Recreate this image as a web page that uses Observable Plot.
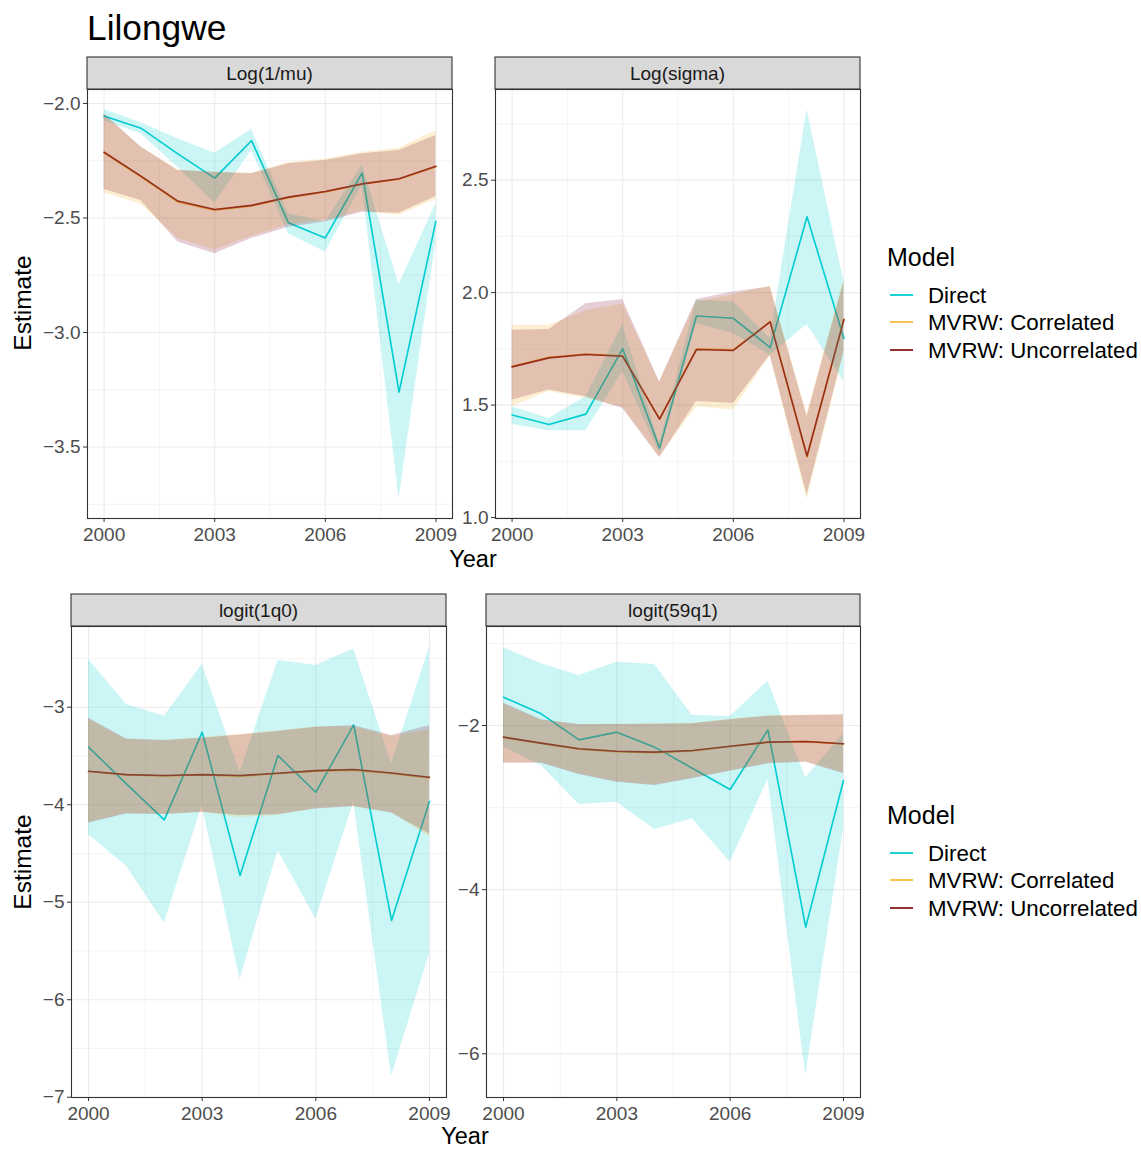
<!DOCTYPE html>
<html>
<head>
<meta charset="utf-8">
<script src="https://cdn.jsdelivr.net/npm/d3@7"></script>
<script src="https://cdn.jsdelivr.net/npm/@observablehq/plot@0.6"></script>
<style>
  html, body { margin: 0; padding: 0; background: #fff; }
  #root { position: relative; width: 1141px; height: 1149px; overflow: hidden; font-family: "Liberation Sans", Arial, sans-serif; }
  #root svg.plot { position: absolute; }
  #overlay { position: absolute; left: 0; top: 0; pointer-events: none; }
</style>
</head>
<body>
<div id="root"></div>
<script>
// ---------------- data ----------------
const years = [2000, 2001, 2002, 2003, 2004, 2005, 2006, 2007, 2008, 2009];
const xMajorTicks = [2000, 2003, 2006, 2009];
const xMinorTicks = [2001.5, 2004.5, 2007.5];
const panelTitles = ["Log(1/mu)", "Log(sigma)", "logit(1q0)", "logit(59q1)"];
const modelNames = ["Direct", "MVRW: Correlated", "MVRW: Uncorrelated"];
const lineColors = ["#00CED1", "#F5BE3A", "#8B1A1A"];
const fillColors = ["#00CED1", "#F0B01E", "#7D0A2A"];
const titleText = "Lilongwe";
const xTitle = "Year";
const yTitle = "Estimate";
const legendTitle = "Model";

// Log(1/mu)
const mu_direct_est = [-2.055, -2.108, -2.22, -2.326, -2.162, -2.521, -2.587, -2.303, -3.26, -2.514];
const mu_direct_lo  = [-2.075, -2.132, -2.28, -2.434, -2.205, -2.569, -2.649, -2.358, -3.726, -2.60];
const mu_direct_hi  = [-2.026, -2.084, -2.154, -2.217, -2.114, -2.48, -2.518, -2.27, -2.79, -2.438];
const mu_corr_est   = [-2.216, -2.32, -2.43, -2.466, -2.447, -2.411, -2.386, -2.353, -2.331, -2.276];
const mu_corr_lo    = [-2.39, -2.44, -2.59, -2.64, -2.58, -2.53, -2.51, -2.47, -2.488, -2.42];
const mu_corr_hi    = [-2.05, -2.19, -2.29, -2.30, -2.305, -2.258, -2.243, -2.213, -2.196, -2.118];
const mu_unc_est    = [-2.213, -2.317, -2.426, -2.463, -2.445, -2.409, -2.384, -2.351, -2.329, -2.274];
const mu_unc_lo     = [-2.376, -2.424, -2.605, -2.656, -2.59, -2.54, -2.518, -2.475, -2.479, -2.406];
const mu_unc_hi     = [-2.045, -2.19, -2.293, -2.30, -2.307, -2.263, -2.249, -2.22, -2.205, -2.14];

// Log(sigma)
const sg_direct_est = [1.456, 1.414, 1.460, 1.751, 1.308, 1.896, 1.886, 1.756, 2.337, 1.796];
const sg_direct_lo  = [1.414, 1.386, 1.386, 1.648, 1.285, 1.862, 1.818, 1.722, 1.858, 1.604];
const sg_direct_hi  = [1.493, 1.44, 1.537, 1.858, 1.33, 1.966, 1.959, 1.796, 2.814, 2.047];
const sg_corr_est   = [1.673, 1.713, 1.727, 1.719, 1.44, 1.75, 1.746, 1.872, 1.27, 1.883];
const sg_corr_lo    = [1.493, 1.56, 1.53, 1.49, 1.27, 1.493, 1.478, 1.72, 1.08, 1.73];
const sg_corr_hi    = [1.855, 1.855, 1.92, 1.95, 1.60, 1.96, 1.99, 2.03, 1.46, 2.06];
const sg_unc_est    = [1.670, 1.710, 1.725, 1.717, 1.438, 1.747, 1.743, 1.870, 1.274, 1.880];
const sg_unc_lo     = [1.522, 1.567, 1.537, 1.485, 1.266, 1.516, 1.507, 1.722, 1.101, 1.737];
const sg_unc_hi     = [1.833, 1.836, 1.951, 1.970, 1.604, 1.970, 2.003, 2.025, 1.448, 2.047];

// logit(1q0)
const q0_direct_est = [-3.410, -3.786, -4.156, -3.256, -4.726, -3.496, -3.872, -3.181, -5.188, -3.968];
const q0_direct_lo  = [-4.309, -4.631, -5.212, -4.01, -5.793, -4.470, -5.171, -3.974, -6.785, -5.53];
const q0_direct_hi  = [-2.511, -2.973, -3.092, -2.562, -3.667, -2.521, -2.573, -2.402, -3.581, -2.385];
const q0_corr_est   = [-3.66, -3.695, -3.705, -3.695, -3.708, -3.68, -3.655, -3.645, -3.68, -3.725];
const q0_corr_lo    = [-4.18, -4.09, -4.10, -4.08, -4.13, -4.11, -4.04, -4.02, -4.08, -4.33];
const q0_corr_hi    = [-3.12, -3.33, -3.34, -3.31, -3.28, -3.24, -3.20, -3.20, -3.30, -3.23];
const q0_unc_est    = [-3.656, -3.691, -3.701, -3.691, -3.701, -3.677, -3.650, -3.639, -3.674, -3.718];
const q0_unc_lo     = [-4.19, -4.094, -4.101, -4.077, -4.111, -4.101, -4.043, -4.019, -4.084, -4.30];
const q0_unc_hi     = [-3.113, -3.325, -3.342, -3.318, -3.284, -3.25, -3.205, -3.188, -3.291, -3.188];

// logit(59q1)
const q1_direct_est = [-1.655, -1.858, -2.175, -2.081, -2.264, -2.520, -2.780, -2.053, -4.457, -2.670];
const q1_direct_lo  = [-2.264, -2.487, -2.962, -2.934, -3.267, -3.137, -3.665, -2.658, -6.264, -3.259];
const q1_direct_hi  = [-1.054, -1.249, -1.391, -1.228, -1.257, -1.878, -1.890, -1.460, -2.638, -2.102];
const q1_corr_est   = [-2.145, -2.218, -2.288, -2.318, -2.33, -2.31, -2.256, -2.206, -2.197, -2.226];
const q1_corr_lo    = [-2.45, -2.45, -2.59, -2.685, -2.725, -2.64, -2.55, -2.46, -2.44, -2.58];
const q1_corr_hi    = [-1.735, -1.935, -1.99, -1.985, -1.98, -1.975, -1.925, -1.88, -1.875, -1.875];
const q1_unc_est    = [-2.142, -2.215, -2.284, -2.313, -2.325, -2.305, -2.252, -2.203, -2.195, -2.223];
const q1_unc_lo     = [-2.459, -2.459, -2.597, -2.69, -2.731, -2.65, -2.556, -2.467, -2.447, -2.589];
const q1_unc_hi     = [-1.728, -1.931, -1.988, -1.988, -1.984, -1.98, -1.931, -1.886, -1.878, -1.87];

// y ticks per panel
const mu_yMajor = [-3.5, -3.0, -2.5, -2.0];
const mu_yMinor = [-3.75, -3.25, -2.75, -2.25];
const sg_yMajor = [1.0, 1.5, 2.0, 2.5];
const sg_yMinor = [1.25, 1.75, 2.25, 2.75];
const q0_yMajor = [-7, -6, -5, -4, -3];
const q0_yMinor = [-6.5, -5.5, -4.5, -3.5, -2.5];
const q1_yMajor = [-6, -4, -2];
const q1_yMinor = [-5, -3, -1];

// ---------------- layout ----------------
const FONT = '"Liberation Sans", Arial, Helvetica, sans-serif';
const GRID = "#EBEBEB";
const TICK_FS = 19;
const mL = 60, mR = 2, mT = 1, mB = 32;

function buildRows(sets) {
  const rows = [];
  sets.forEach((s, mi) => {
    years.forEach((y, i) => rows.push({year: y, model: modelNames[mi], est: s[0][i], lo: s[1][i], hi: s[2][i]}));
  });
  return rows;
}

const panels = [
  {title: panelTitles[0], x0: 87, y0: 89, w: 365, h: 429, yDomain: [-3.812, -1.939], yMajor: mu_yMajor, yMinor: mu_yMinor, fmt: d3.format(".1f"),
   sets: [[mu_direct_est, mu_direct_lo, mu_direct_hi], [mu_corr_est, mu_corr_lo, mu_corr_hi], [mu_unc_est, mu_unc_lo, mu_unc_hi]]},
  {title: panelTitles[1], x0: 495, y0: 89, w: 365, h: 429, yDomain: [0.996, 2.903], yMajor: sg_yMajor, yMinor: sg_yMinor, fmt: d3.format(".1f"),
   sets: [[sg_direct_est, sg_direct_lo, sg_direct_hi], [sg_corr_est, sg_corr_lo, sg_corr_hi], [sg_unc_est, sg_unc_lo, sg_unc_hi]]},
  {title: panelTitles[2], x0: 71, y0: 626, w: 375, h: 471, yDomain: [-7.003, -2.172], yMajor: q0_yMajor, yMinor: q0_yMinor, fmt: d3.format("d"),
   sets: [[q0_direct_est, q0_direct_lo, q0_direct_hi], [q0_corr_est, q0_corr_lo, q0_corr_hi], [q0_unc_est, q0_unc_lo, q0_unc_hi]]},
  {title: panelTitles[3], x0: 486, y0: 626, w: 374, h: 471, yDomain: [-6.532, -0.794], yMajor: q1_yMajor, yMinor: q1_yMinor, fmt: d3.format("d"),
   sets: [[q1_direct_est, q1_direct_lo, q1_direct_hi], [q1_corr_est, q1_corr_lo, q1_corr_hi], [q1_unc_est, q1_unc_lo, q1_unc_hi]]}
];

const root = document.getElementById("root");

panels.forEach(p => {
  const rows = buildRows(p.sets);
  const byModel = m => rows.filter(r => r.model === m);
  const chart = Plot.plot({
    width: p.w + mL + mR,
    height: p.h + mT + mB,
    marginLeft: mL, marginRight: mR, marginTop: mT, marginBottom: mB,
    style: {fontFamily: FONT, fontSize: TICK_FS + "px", color: "#4D4D4D", background: "transparent", overflow: "visible"},
    x: {domain: [1999.55, 2009.45]},
    y: {domain: p.yDomain},
    marks: [
      Plot.ruleX(xMinorTicks, {stroke: GRID, strokeWidth: 0.55}),
      Plot.ruleY(p.yMinor, {stroke: GRID, strokeWidth: 0.55}),
      Plot.ruleX(xMajorTicks, {stroke: GRID, strokeWidth: 1.1}),
      Plot.ruleY(p.yMajor, {stroke: GRID, strokeWidth: 1.1}),
      ...modelNames.map((m, i) => Plot.lineY(byModel(m), {x: "year", y: "est", stroke: lineColors[i], strokeWidth: 1.6})),
      ...modelNames.map((m, i) => Plot.areaY(byModel(m), {x: "year", y1: "lo", y2: "hi", fill: fillColors[i], fillOpacity: 0.2})),
      Plot.frame({stroke: "#333333", strokeWidth: 1.1}),
      Plot.axisX({ticks: xMajorTicks, tickFormat: d => String(d), tickSize: 4, tickPadding: 5, stroke: "#333333", label: null, fontSize: TICK_FS}),
      Plot.axisY({ticks: p.yMajor, tickFormat: p.fmt, tickSize: 4, tickPadding: 3, stroke: "#333333", label: null, fontSize: TICK_FS})
    ]
  });
  chart.classList.add("plot");
  chart.style.left = (p.x0 - mL) + "px";
  chart.style.top = (p.y0 - mT) + "px";
  root.appendChild(chart);
});

// overlay: title, strips, axis titles, legends
const ov = d3.select(root).append("svg").attr("id", "overlay")
  .attr("width", 1141).attr("height", 1149)
  .style("font-family", FONT);

ov.append("text").attr("x", 87).attr("y", 40).attr("font-size", 35.3).attr("fill", "#000").text(titleText);

panels.forEach(p => {
  ov.append("rect").attr("x", p.x0).attr("y", p.y0 - 32).attr("width", p.w).attr("height", 32)
    .attr("fill", "#D9D9D9").attr("stroke", "#333333").attr("stroke-width", 1.1);
  ov.append("text").attr("x", p.x0 + p.w / 2).attr("y", p.y0 - 16).attr("dy", "0.35em")
    .attr("text-anchor", "middle").attr("font-size", 19).attr("fill", "#1A1A1A").text(p.title);
});

[[473, 559], [465, 1136]].forEach(([x, y]) => {
  ov.append("text").attr("x", x).attr("y", y).attr("dy", "0.35em").attr("text-anchor", "middle")
    .attr("font-size", 23.5).attr("fill", "#000").text(xTitle);
});
[[22, 303], [22, 862]].forEach(([x, y]) => {
  ov.append("text").attr("transform", `translate(${x},${y}) rotate(-90)`).attr("dy", "0.35em")
    .attr("text-anchor", "middle").attr("font-size", 24.5).attr("fill", "#000").text(yTitle);
});

[[257, [295, 322, 350]], [815, [853, 880, 908]]].forEach(([ty, ys]) => {
  ov.append("text").attr("x", 887).attr("y", ty).attr("dy", "0.35em").attr("font-size", 25).attr("fill", "#000").text(legendTitle);
  modelNames.forEach((m, i) => {
    ov.append("line").attr("x1", 890).attr("x2", 913).attr("y1", ys[i]).attr("y2", ys[i])
      .attr("stroke", lineColors[i]).attr("stroke-width", 1.8);
    ov.append("text").attr("x", 928).attr("y", ys[i]).attr("dy", "0.35em").attr("font-size", 22.3).attr("fill", "#000").text(m);
  });
});
</script>
</body>
</html>
